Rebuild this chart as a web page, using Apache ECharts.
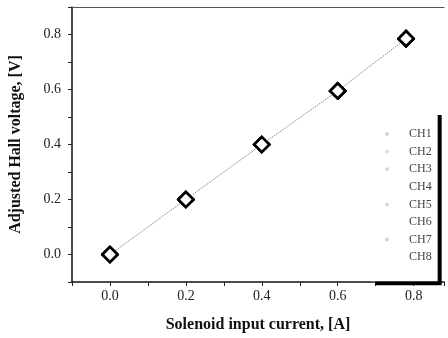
<!DOCTYPE html>
<html>
<head>
<meta charset="utf-8">
<script src="https://cdn.jsdelivr.net/npm/echarts@6/dist/echarts.min.js"></script>
<style>html,body{margin:0;padding:0;background:#fff;}#c{width:448px;height:338px;}</style>
</head>
<body>
<div id="c"></div>
<script>
// Data
var channels = ['CH1', 'CH2', 'CH3', 'CH4', 'CH5', 'CH6', 'CH7', 'CH8'];
var current = [0.0, 0.2, 0.4, 0.6, 0.78];
var hallVoltage = [0.0, 0.2, 0.4, 0.595, 0.785];
var xTickLabels = ['0.0', '0.2', '0.4', '0.6', '0.8'];
var yTickLabels = ['0.0', '0.2', '0.4', '0.6', '0.8'];
var legendIconColors = ['#d4d4d4', '#e0e0e0', '#d8d8d8', '#ffffff', '#d8d8d8', '#ffffff', '#d4d4d4', '#ffffff'];

var serif = '"Liberation Serif", "DejaVu Serif", serif';

function tickFmt(labels) {
  return function (v) {
    var s = (Math.round(v * 10) / 10).toFixed(1);
    return labels.indexOf(s) >= 0 ? s : '';
  };
}

var pts = current.map(function (x, i) { return [x, hallVoltage[i]]; });

var series = channels.map(function (name, i) {
  return {
    name: name,
    type: 'line',
    data: pts,
    symbol: 'rect',
    symbolRotate: 45,
    symbolSize: 10.5,
    showSymbol: true,
    itemStyle: { color: '#fff', borderColor: '#000', borderWidth: 2.4 },
    lineStyle: i === 0 ? { color: '#8a8a8a', width: 1, type: [1.5, 1] } : { width: 0, opacity: 0 },
    z: i === 0 ? 3 : 2,
    animation: false
  };
});

var chart = echarts.init(document.getElementById('c'), null, { renderer: 'canvas' });
chart.setOption({
  backgroundColor: '#fff',
  animation: false,
  grid: { left: 71, right: 4, top: 7, bottom: 50 },
  xAxis: [{
    type: 'value',
    min: -0.1, max: 0.88, interval: 0.1,
    name: 'Solenoid input current, [A]',
    nameLocation: 'middle',
    nameGap: 35,
    nameTextStyle: { fontFamily: serif, fontWeight: 'bold', fontSize: 16, color: '#111' },
    axisLine: { show: true, onZero: false, lineStyle: { color: '#111', width: 1.5 } },
    axisTick: { show: true, length: 4, lineStyle: { color: '#222' } },
    axisLabel: { formatter: tickFmt(xTickLabels), fontFamily: serif, fontSize: 14, color: '#222', margin: 7, showMinLabel: true, showMaxLabel: true },
    splitLine: { show: false }
  }, {
    type: 'value', position: 'top',
    min: -0.1, max: 0.88,
    axisLine: { show: true, onZero: false, lineStyle: { color: '#555', width: 1 } },
    axisTick: { show: false }, axisLabel: { show: false }, splitLine: { show: false }
  }],
  yAxis: {
    type: 'value',
    min: -0.1, max: 0.9, interval: 0.1,
    name: 'Adjusted Hall voltage, [V]',
    nameLocation: 'middle',
    nameGap: 48,
    nameTextStyle: { fontFamily: serif, fontWeight: 'bold', fontSize: 16, color: '#111' },
    axisLine: { show: true, onZero: false, lineStyle: { color: '#111', width: 1.5 } },
    axisTick: { show: true, length: 4, lineStyle: { color: '#222' } },
    axisLabel: { formatter: tickFmt(yTickLabels), fontFamily: serif, fontSize: 14, color: '#222', margin: 11 },
    splitLine: { show: false }
  },
  legend: {
    orient: 'vertical',
    left: 371, top: 111,
    padding: [17, 6, 18, 14],
    itemWidth: 4, itemHeight: 4, itemGap: 5.6,
    backgroundColor: '#fff',
    borderWidth: 0,
    shadowColor: '#000', shadowBlur: 0, shadowOffsetX: 4, shadowOffsetY: 4,
    textStyle: { fontFamily: serif, fontSize: 12, color: '#444', lineHeight: 12, padding: [0, 0, 0, 15] },
    data: channels.map(function (n, i) {
      return { name: n, icon: 'circle', itemStyle: { color: legendIconColors[i], borderWidth: 0 } };
    })
  },
  series: series
});
</script>
</body>
</html>
